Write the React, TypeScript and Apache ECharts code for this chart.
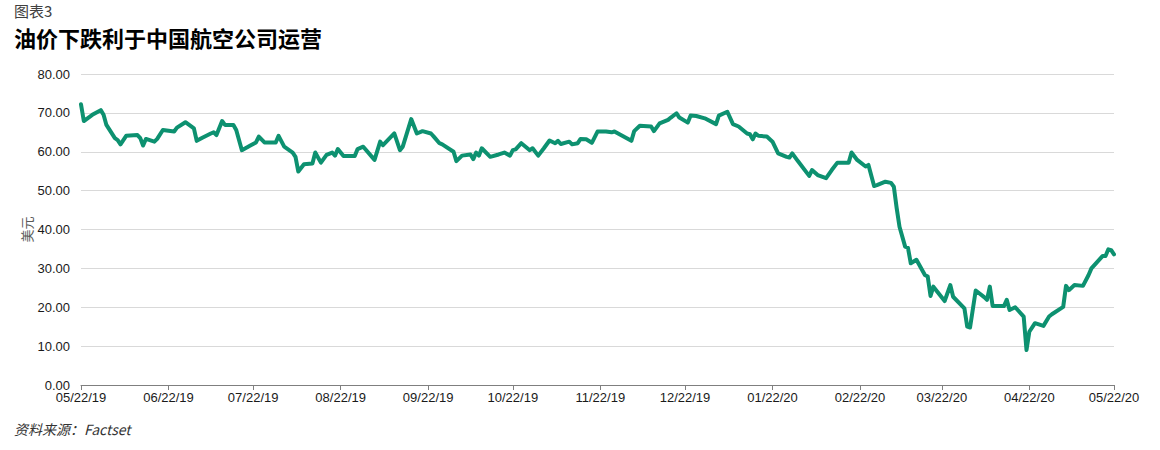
import React, { useEffect, useRef } from "react";
import * as echarts from "echarts";

const tickLabels = [
  "05/22/19", "06/22/19", "07/22/19", "08/22/19", "09/22/19", "10/22/19", "11/22/19",
  "12/22/19", "01/22/20", "02/22/20", "03/22/20", "04/22/20", "05/22/20",
];

const dates = [
  "2019-05-22", "2019-05-23", "2019-05-26", "2019-05-29", "2019-05-30", "2019-05-31",
  "2019-06-03", "2019-06-04", "2019-06-05", "2019-06-07", "2019-06-11", "2019-06-12",
  "2019-06-13", "2019-06-14", "2019-06-17", "2019-06-18", "2019-06-20", "2019-06-24",
  "2019-06-25", "2019-06-28", "2019-07-01", "2019-07-02", "2019-07-04", "2019-07-07",
  "2019-07-08", "2019-07-09", "2019-07-11", "2019-07-12", "2019-07-15", "2019-07-16",
  "2019-07-18", "2019-07-21", "2019-07-23", "2019-07-24", "2019-07-26", "2019-07-30",
  "2019-07-31", "2019-08-02", "2019-08-05", "2019-08-06", "2019-08-07", "2019-08-09",
  "2019-08-12", "2019-08-13", "2019-08-15", "2019-08-17", "2019-08-19", "2019-08-20",
  "2019-08-21", "2019-08-23", "2019-08-27", "2019-08-28", "2019-08-30", "2019-09-03",
  "2019-09-05", "2019-09-06", "2019-09-10", "2019-09-12", "2019-09-13", "2019-09-16",
  "2019-09-18", "2019-09-20", "2019-09-23", "2019-09-24", "2019-09-26", "2019-09-27",
  "2019-10-01", "2019-10-02", "2019-10-04", "2019-10-07", "2019-10-08", "2019-10-09",
  "2019-10-10", "2019-10-11", "2019-10-14", "2019-10-17", "2019-10-19", "2019-10-21",
  "2019-10-22", "2019-10-23", "2019-10-25", "2019-10-28", "2019-10-29", "2019-10-31",
  "2019-11-02", "2019-11-04", "2019-11-06", "2019-11-07", "2019-11-08", "2019-11-11",
  "2019-11-12", "2019-11-14", "2019-11-15", "2019-11-17", "2019-11-19", "2019-11-21",
  "2019-11-24", "2019-11-26", "2019-11-27", "2019-12-03", "2019-12-04", "2019-12-06",
  "2019-12-10", "2019-12-11", "2019-12-13", "2019-12-16", "2019-12-17", "2019-12-19",
  "2019-12-20", "2019-12-23", "2019-12-24", "2019-12-26", "2019-12-29", "2020-01-02",
  "2020-01-03", "2020-01-06", "2020-01-08", "2020-01-10", "2020-01-13", "2020-01-14",
  "2020-01-15", "2020-01-16", "2020-01-17", "2020-01-20", "2020-01-22", "2020-01-24",
  "2020-01-27", "2020-01-28", "2020-01-29", "2020-01-31", "2020-02-04", "2020-02-05",
  "2020-02-07", "2020-02-10", "2020-02-12", "2020-02-14", "2020-02-18", "2020-02-19",
  "2020-02-21", "2020-02-24", "2020-02-25", "2020-02-27", "2020-02-28", "2020-03-02",
  "2020-03-04", "2020-03-05", "2020-03-06", "2020-03-07", "2020-03-09", "2020-03-10",
  "2020-03-11", "2020-03-13", "2020-03-16", "2020-03-17", "2020-03-18", "2020-03-19",
  "2020-03-23", "2020-03-25", "2020-03-26", "2020-03-30", "2020-03-31", "2020-04-01",
  "2020-04-03", "2020-04-06", "2020-04-07", "2020-04-08", "2020-04-09", "2020-04-13",
  "2020-04-14", "2020-04-15", "2020-04-17", "2020-04-20", "2020-04-21", "2020-04-22",
  "2020-04-24", "2020-04-27", "2020-04-29", "2020-04-30", "2020-05-04", "2020-05-05",
  "2020-05-06", "2020-05-08", "2020-05-11", "2020-05-13", "2020-05-14", "2020-05-18",
  "2020-05-19", "2020-05-20", "2020-05-21", "2020-05-22",
];

const prices = [
  72.2, 67.9, 69.5, 70.7, 69.5, 66.9,
  63.5, 63.0, 61.9, 64.1, 64.3, 63.5,
  61.6, 63.3, 62.6, 63.3, 65.6, 65.2,
  66.2, 67.6, 66.0, 62.8, 63.6, 64.7,
  65.0, 64.3, 67.9, 66.9, 66.9, 65.6,
  60.4, 61.6, 62.4, 63.9, 62.4, 62.4,
  64.1, 61.3, 59.8, 58.7, 54.9, 56.8,
  57.0, 59.8, 57.2, 59.2, 59.8, 59.0,
  60.7, 58.9, 58.9, 60.7, 61.3, 57.9,
  62.6, 61.7, 64.7, 60.4, 61.3, 68.4,
  64.7, 65.3, 64.7, 63.9, 62.2, 61.9,
  60.0, 57.6, 59.0, 59.3, 58.1, 59.8,
  59.0, 60.9, 58.7, 59.3, 59.8, 59.0,
  60.4, 60.6, 62.2, 60.4, 60.9, 59.0,
  60.9, 62.9, 62.2, 62.8, 62.0, 62.6,
  61.9, 62.2, 63.3, 63.2, 62.3, 65.2,
  65.2, 65.0, 65.2, 62.8, 65.3, 66.7,
  66.5, 65.3, 67.3, 68.2, 68.8, 69.9,
  68.8, 67.5, 69.3, 69.2, 68.6, 67.1,
  69.3, 70.3, 67.1, 66.5, 64.7, 64.5,
  63.2, 64.7, 64.1, 63.9, 62.6, 59.6,
  58.7, 58.5, 59.6, 57.6, 53.8, 55.3,
  54.0, 53.2, 55.3, 57.2, 57.2, 59.8,
  57.9, 56.2, 56.6, 51.2, 51.4, 52.3,
  52.0, 51.0, 45.5, 40.7, 35.6, 35.3,
  31.3, 32.2, 28.3, 27.9, 22.9, 25.3,
  21.6, 25.7, 22.7, 19.7, 15.0, 14.8,
  24.3, 22.6, 21.9, 25.3, 20.3, 20.3,
  21.9, 19.3, 20.0, 17.6, 9.0, 13.7,
  15.9, 15.2, 17.6, 18.2, 20.1, 25.5,
  24.4, 25.7, 25.5, 28.3, 30.0, 33.2,
  33.2, 34.9, 34.7, 33.6,
];

const yTicks = [0, 10, 20, 30, 40, 50, 60, 70, 80];

const isoToTs = (s: string) => {
  const [y, m, d] = s.split("-").map(Number);
  return Date.UTC(y, m - 1, d);
};
const labelToTs = (s: string) => {
  const [m, d, y] = s.split("/").map(Number);
  return Date.UTC(2000 + y, m - 1, d);
};
const tsToLabel = (v: number) => {
  const dt = new Date(v);
  const mm = String(dt.getUTCMonth() + 1).padStart(2, "0");
  const dd = String(dt.getUTCDate()).padStart(2, "0");
  const yy = String(dt.getUTCFullYear() % 100).padStart(2, "0");
  return `${mm}/${dd}/${yy}`;
};

export default function App() {
  const ref = useRef<HTMLDivElement>(null);
  useEffect(() => {
    if (!ref.current) return;
    const chart = echarts.init(ref.current, null, { renderer: "svg" });
    const tickTs = tickLabels.map(labelToTs);
    const seriesData = dates.map((d, i) => [isoToTs(d), prices[i]]);
    const font = "'Liberation Sans', Arial, sans-serif";
    const cjk = "'Noto Sans CJK SC', 'Noto Sans', sans-serif";
    chart.setOption({
      animation: false,
      backgroundColor: "#ffffff",
      grid: { left: 81, right: 46, top: 74, bottom: 65, containLabel: false },
      xAxis: {
        type: "value",
        min: tickTs[0],
        max: tickTs[tickTs.length - 1],
        splitLine: { show: false },
        axisLine: { show: true, lineStyle: { color: "#7f7f7f", width: 1 } },
        axisTick: { show: true, length: 5, lineStyle: { color: "#7f7f7f" }, customValues: tickTs },
        axisLabel: {
          customValues: tickTs,
          formatter: (v: number) => tsToLabel(v),
          color: "#1a1a1a",
          fontSize: 13,
          fontFamily: font,
          margin: 6,
        },
      },
      yAxis: {
        type: "value",
        min: yTicks[0],
        max: yTicks[yTicks.length - 1],
        interval: 10,
        name: "美元",
        nameLocation: "middle",
        nameRotate: 90,
        nameGap: 48,
        nameMoveOverlap: false,
        nameTextStyle: { color: "#595959", fontSize: 13, fontFamily: cjk },
        axisLine: { show: false },
        axisTick: { show: false },
        splitLine: { show: true, lineStyle: { color: "#d9d9d9", width: 1 } },
        axisLabel: {
          formatter: (v: number) => v.toFixed(2),
          color: "#1a1a1a",
          fontSize: 13,
          fontFamily: font,
          margin: 11,
        },
      },
      series: [
        {
          type: "line",
          data: seriesData,
          showSymbol: false,
          symbol: "none",
          lineStyle: { color: "#0d9170", width: 4, cap: "round", join: "round" },
          itemStyle: { color: "#0d9170" },
          z: 3,
        },
      ],
      graphic: [
        {
          type: "text",
          left: 14,
          top: 3,
          style: { text: "图表3", fill: "#404040", fontSize: 15, fontFamily: cjk },
        },
        {
          type: "text",
          left: 14,
          top: 26,
          style: {
            text: "油价下跌利于中国航空公司运营",
            fill: "#000000",
            fontSize: 22,
            fontWeight: "bold",
            fontFamily: cjk,
          },
        },
        {
          type: "text",
          left: 14,
          top: 422,
          style: {
            text: "资料来源：Factset",
            fill: "#333333",
            fontSize: 14,
            fontStyle: "italic",
            fontFamily: cjk,
          },
        },
      ],
    });
    return () => chart.dispose();
  }, []);
  return (
    <div
      ref={ref}
      style={{ position: "absolute", left: 0, top: 0, width: 1160, height: 450, background: "#fff" }}
    />
  );
}
